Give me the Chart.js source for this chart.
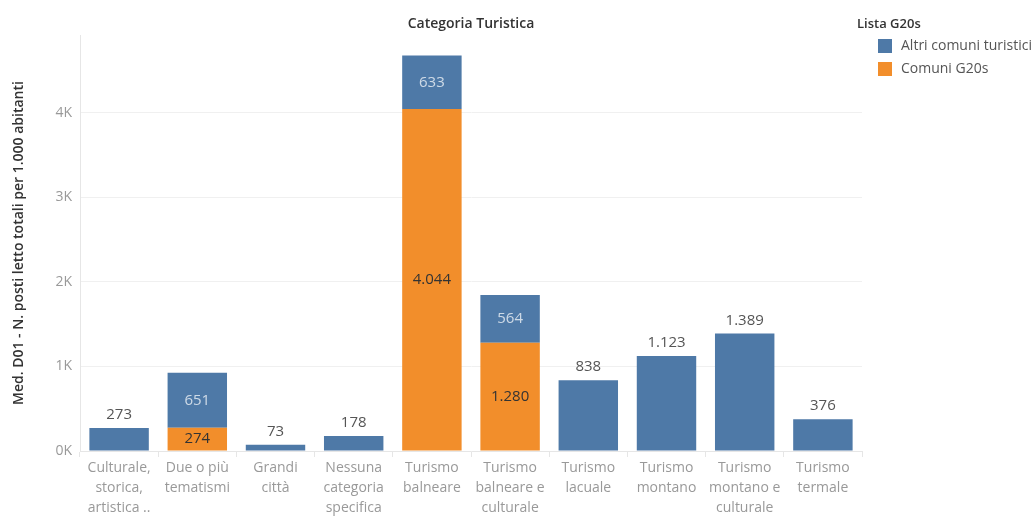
<!DOCTYPE html>
<html>
<head>
<meta charset="utf-8">
<title>Categoria Turistica</title>
<script src="https://cdn.jsdelivr.net/npm/chart.js@4"></script>
<style>
  html, body { margin: 0; padding: 0; background: #fff; }
  #wrap { width: 1036px; height: 518px; position: relative; }
</style>
</head>
<body>
<div id="wrap"><canvas id="chart"></canvas></div>
<script>
// categories (x axis, multi-line labels)
const categories = [
  ['Culturale,', 'storica,', 'artistica ..'],
  ['Due o più', 'tematismi'],
  ['Grandi', 'città'],
  ['Nessuna', 'categoria', 'specifica'],
  ['Turismo', 'balneare'],
  ['Turismo', 'balneare e', 'culturale'],
  ['Turismo', 'lacuale'],
  ['Turismo', 'montano'],
  ['Turismo', 'montano e', 'culturale'],
  ['Turismo', 'termale']
];

// series values (median beds per 1.000 inhabitants)
const comuniG20s = [null, 274, null, null, 4044, 1280, null, null, null, null];
const altriComuni = [273, 651, 73, 178, 633, 564, 838, 1123, 1389, 376];

const seriesNames = ['Altri comuni turistici', 'Comuni G20s'];
const yTicks = [0, 1000, 2000, 3000, 4000];
const yMax = 4920;

const BLUE = '#4e79a7';
const ORANGE = '#f28e2b';
const FONT = "'Open Sans', sans-serif";

function fmt(v) {
  return String(v).replace(/\B(?=(\d{3})+(?!\d))/g, '.');
}

// value labels: inside stacked segments, above single bars
const valueLabels = {
  id: 'valueLabels',
  afterDatasetsDraw(chart) {
    const ctx = chart.ctx;
    const metaO = chart.getDatasetMeta(0);
    const metaB = chart.getDatasetMeta(1);
    ctx.save();
    ctx.font = '15px ' + FONT;
    ctx.textAlign = 'center';
    ctx.textBaseline = 'middle';
    categories.forEach((c, i) => {
      const o = comuniG20s[i];
      const b = altriComuni[i];
      if (o != null) {
        const bar = metaO.data[i];
        ctx.fillStyle = '#333';
        ctx.fillText(fmt(o), bar.x, (bar.y + bar.base) / 2);
      }
      if (b != null) {
        const bar = metaB.data[i];
        if (o != null) {
          ctx.fillStyle = 'rgba(255,255,255,0.72)';
          ctx.fillText(fmt(b), bar.x, (bar.y + bar.base) / 2);
        } else {
          ctx.fillStyle = '#555';
          ctx.fillText(fmt(b), bar.x, bar.y - 13);
        }
      }
    });
    ctx.restore();
  }
};

// top title and legend on the right
const headerAndLegend = {
  id: 'headerAndLegend',
  afterDraw(chart) {
    const ctx = chart.ctx;
    const area = chart.chartArea;
    ctx.save();
    ctx.fillStyle = '#333';
    ctx.font = '600 14px ' + FONT;
    ctx.textAlign = 'center';
    ctx.textBaseline = 'middle';
    ctx.fillText('Categoria Turistica', (area.left + area.right) / 2, 24);

    const lx = area.right - 5;
    ctx.textAlign = 'left';
    ctx.font = '600 13px ' + FONT;
    ctx.fillText('Lista G20s', lx, 24);
    const items = [[seriesNames[0], BLUE], [seriesNames[1], ORANGE]];
    ctx.font = '14px ' + FONT;
    items.forEach(([name, color], k) => {
      const y = 46 + k * 23;
      ctx.fillStyle = color;
      ctx.fillRect(lx + 21, y - 7, 14, 14);
      ctx.fillStyle = '#555';
      ctx.fillText(name, lx + 44, y);
    });
    ctx.restore();
  }
};

new Chart(document.getElementById('chart'), {
  type: 'bar',
  data: {
    labels: categories,
    datasets: [
      { label: seriesNames[1], data: comuniG20s, backgroundColor: ORANGE },
      { label: seriesNames[0], data: altriComuni, backgroundColor: BLUE }
    ]
  },
  options: {
    responsive: true,
    maintainAspectRatio: false,
    animation: false,
    layout: { padding: { top: 35, right: 174, bottom: 0, left: 0 } },
    datasets: { bar: { categoryPercentage: 1, barPercentage: 0.76 } },
    plugins: {
      legend: { display: false },
      tooltip: { enabled: false }
    },
    scales: {
      x: {
        stacked: true,
        afterFit(s) { s.height = 67; },
        grid: { offset: true, drawOnChartArea: false, color: '#e6e6e6', tickLength: 6 },
        border: { color: '#e6e6e6' },
        ticks: {
          color: '#999',
          maxRotation: 0,
          autoSkip: false,
          padding: 1,
          font: { family: FONT, size: 14, lineHeight: 1.43 }
        }
      },
      y: {
        stacked: true,
        min: 0,
        max: yMax,
        afterFit(s) { s.width = 80; },
        afterBuildTicks(s) { s.ticks = yTicks.map(v => ({ value: v })); },
        grid: { color: '#f0f0f0', drawTicks: false },
        border: { color: '#e6e6e6' },
        ticks: {
          color: '#999',
          padding: 8,
          font: { family: FONT, size: 14 },
          callback: v => (v / 1000) + 'K'
        },
        title: {
          display: true,
          text: 'Med. D01 - N. posti letto totali per 1.000 abitanti',
          color: '#333',
          font: { family: FONT, size: 14, weight: '600' },
          padding: { top: 11, bottom: 0 }
        }
      }
    }
  },
  plugins: [valueLabels, headerAndLegend]
});
</script>
</body>
</html>
